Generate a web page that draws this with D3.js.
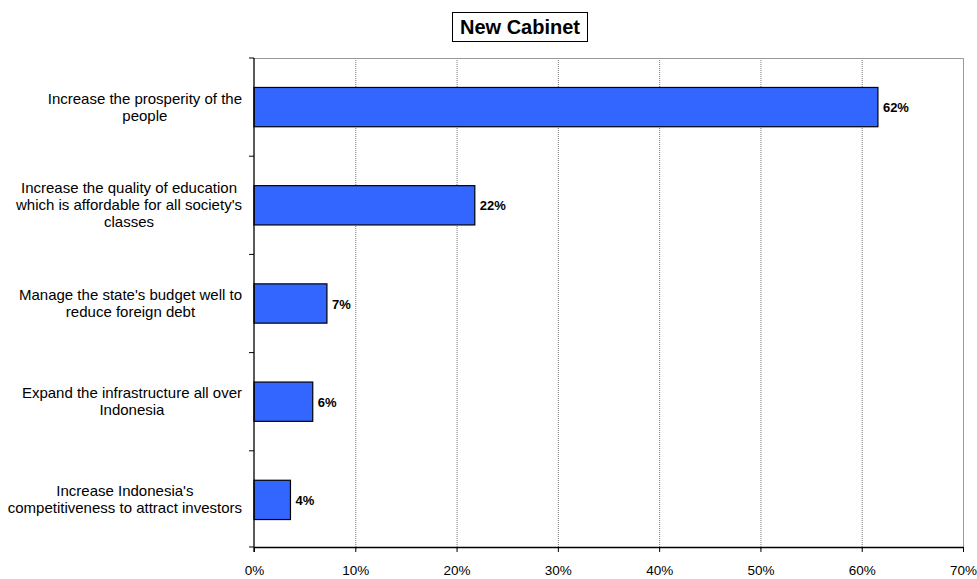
<!DOCTYPE html>
<html>
<head>
<meta charset="utf-8">
<script src="https://cdn.jsdelivr.net/npm/d3@7"></script>
<style>
  body { margin: 0; background: #fff; }
  svg { font-family: "Liberation Sans", Arial, sans-serif; }
</style>
</head>
<body>
<div class="chart"></div>
<script>
// bar categories, top to bottom (lines split as in the original)
const categories = [
    ["Increase the prosperity of the", "people"],
    ["Increase the quality of education", "which is affordable for all society's", "classes"],
    ["Manage the state's budget well to", "reduce foreign debt"],
    ["Expand the infrastructure all over", "Indonesia"],
    ["Increase Indonesia's", "competitiveness to attract investors"]
];
const values = [61.6, 21.8, 7.2, 5.8, 3.6];
const valueLabels = ["62%", "22%", "7%", "6%", "4%"];
const ticks = [0, 10, 20, 30, 40, 50, 60, 70];

const width = 977, height = 579;
const plotLeft = 254, plotRight = 963, plotTop = 58, plotBottom = 549;

const svg = d3.select(".chart").append("svg")
    .attr("width", width)
    .attr("height", height);

const x = d3.scaleLinear().domain([0, 70]).range([plotLeft, plotRight]);
const y = d3.scaleBand().domain(d3.range(categories.length)).range([plotTop, plotBottom]).paddingInner(0.6).paddingOuter(0.3);
const band = d3.scaleBand().domain(d3.range(categories.length)).range([plotTop, plotBottom]);

//gridlines
svg.append("g")
    .selectAll("line")
    .data(ticks.slice(1, -1))
    .enter().append("line")
    .attr("x1", d => x(d) + 0.5).attr("x2", d => x(d) + 0.5)
    .attr("y1", plotTop).attr("y2", plotBottom)
    .attr("stroke", "#777")
    .attr("stroke-width", 1)
    .attr("stroke-dasharray", "1,1");

//plot border top/right
svg.append("path")
    .attr("d", `M${plotLeft},${plotTop + 0.5}H${plotRight + 0.5}V${plotBottom}`)
    .attr("fill", "none")
    .attr("stroke", "#999")
    .attr("stroke-width", 1);

//bars
svg.selectAll("rect.bar")
    .data(values)
    .enter().append("rect")
    .attr("class", "bar")
    .attr("x", x(0))
    .attr("y", (d, i) => y(i))
    .attr("width", d => x(d) - x(0))
    .attr("height", y.bandwidth())
    .attr("fill", "#3366ff")
    .attr("stroke", "#000")
    .attr("stroke-width", 1.2);

svg.selectAll("text.val")
    .data(values)
    .enter().append("text")
    .attr("class", "val")
    .attr("x", d => x(d) + 5)
    .attr("y", (d, i) => y(i) + y.bandwidth() / 2 + 5)
    .attr("font-size", 13)
    .attr("font-weight", "bold")
    .text((d, i) => valueLabels[i]);

//x axis
const xAxis = d3.axisBottom(x)
    .tickValues(ticks)
    .tickFormat(d => d + "%")
    .tickSize(5)
    .tickSizeOuter(0);

const gx = svg.append("g")
    .attr("transform", `translate(0,${plotBottom - 2})`)
    .call(xAxis);
gx.select(".domain").attr("stroke", "#000").attr("stroke-width", 1.3);
gx.selectAll(".tick line").attr("stroke", "#000");
gx.selectAll(".tick text")
    .attr("font-family", "Liberation Sans, Arial, sans-serif")
    .attr("font-size", 13.5)
    .attr("fill", "#000")
    .attr("y", 0)
    .attr("dy", 0)
    .attr("transform", "translate(0, 28)");

//y axis with ticks between categories
svg.append("line")
    .attr("x1", plotLeft).attr("x2", plotLeft)
    .attr("y1", plotTop).attr("y2", plotBottom + 3)
    .attr("stroke", "#000")
    .attr("stroke-width", 1.3);

svg.selectAll("line.ytick")
    .data(d3.range(categories.length + 1))
    .enter().append("line")
    .attr("class", "ytick")
    .attr("x1", plotLeft - 5).attr("x2", plotLeft)
    .attr("y1", i => i < categories.length ? band(i) : plotBottom - 2)
    .attr("y2", i => i < categories.length ? band(i) : plotBottom - 2)
    .attr("stroke", "#000");

//category labels: each block centred on its widest line, block right edge at 242
const lineHeight = 17;
const labelRight = 242;
const catText = svg.selectAll("text.cat")
    .data(categories)
    .enter().append("text")
    .attr("class", "cat")
    .attr("text-anchor", "middle")
    .attr("font-size", 15)
    .attr("fill", "#000");

catText.selectAll("tspan")
    .data(d => d)
    .enter().append("tspan")
    .attr("x", 0)
    .attr("y", (d, i) => i * lineHeight)
    .text(d => d);

catText.attr("transform", function(d, i) {
    let maxW = 0;
    d3.select(this).selectAll("tspan").each(function() {
        maxW = Math.max(maxW, this.getComputedTextLength());
    });
    const cy = y(i) + y.bandwidth() / 2 - (d.length - 1) * lineHeight / 2 + 5;
    return `translate(${labelRight - maxW / 2}, ${cy})`;
});

//title box
svg.append("rect")
    .attr("x", 452.5).attr("y", 12.5)
    .attr("width", 135).attr("height", 29)
    .attr("fill", "#fff")
    .attr("stroke", "#000");

svg.append("text")
    .attr("x", 520).attr("y", 34)
    .attr("text-anchor", "middle")
    .attr("font-size", 20)
    .attr("font-weight", "bold")
    .text("New Cabinet");
</script>
</body>
</html>
